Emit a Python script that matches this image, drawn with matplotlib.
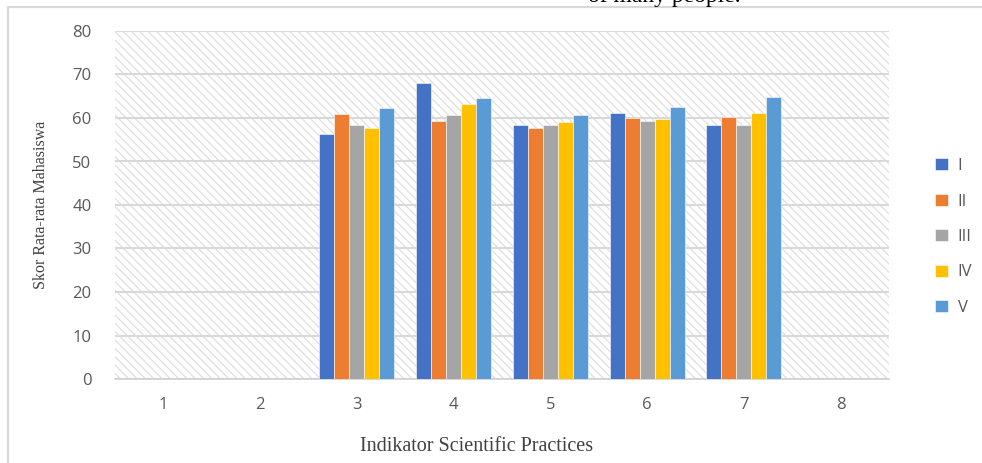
import matplotlib.pyplot as plt
import matplotlib.patches as mpatches
import numpy as np

# data (indikator 1, 2 and 8 have no bars)
indikator = ['1', '2', '3', '4', '5', '6', '7', '8']
seri = ['I', 'II', 'III', 'IV', 'V']
skor_I = [0, 0, 56.4, 68.0, 58.3, 61.2, 58.3, 0]
skor_II = [0, 0, 60.9, 59.4, 57.8, 60.0, 60.2, 0]
skor_III = [0, 0, 58.3, 60.6, 58.3, 59.2, 58.5, 0]
skor_IV = [0, 0, 57.6, 63.3, 59.0, 59.7, 61.1, 0]
skor_V = [0, 0, 62.3, 64.6, 60.6, 62.5, 64.9, 0]
warna = ['#4472C4', '#ED7D31', '#A5A5A5', '#FFC000', '#5B9BD5']

plt.rcParams['hatch.linewidth'] = 0.8

fig = plt.figure(figsize=(9.82, 4.63), dpi=100)
ax = fig.add_axes([115/982, 1-379/463, 774/982, 348/463])

# chart frame (light gray border, cut by the image edges)
fig.patches.append(mpatches.Rectangle((8/982, -0.1), 1.1, 1 - 7/463 + 0.1,
                                      transform=fig.transFigure, fill=False,
                                      edgecolor='#d9d9d9', linewidth=1.6))
# leftover document text cut at the top
fig.text(588/982, 1-2/463, 'of many people.', family='Liberation Serif',
         fontsize=17, va='baseline', ha='left', color='black')

# hatched plot area
ax.add_patch(mpatches.Rectangle((0, 0), 1, 1, transform=ax.transAxes,
                                facecolor='white', edgecolor='#dcdcdc',
                                hatch='\\\\\\\\', linewidth=0, zorder=0))

x = np.arange(len(indikator))
lebar = 0.155
semua = [skor_I, skor_II, skor_III, skor_IV, skor_V]
for i, (nilai, c) in enumerate(zip(semua, warna)):
    ax.bar(x + (i - 2) * lebar, nilai, lebar, color=c, label=seri[i],
           edgecolor='white', linewidth=0.4, zorder=3)

ax.set_xlim(-0.5, 7.5)
ax.set_ylim(0, 80)
ax.set_yticks(range(0, 81, 10))
ax.set_xticks(x)
ax.set_xticklabels(indikator)
ax.grid(axis='y', color='#d9d9d9', linewidth=1.5, zorder=1)
ax.set_axisbelow(True)
for s in ['top', 'right', 'left']:
    ax.spines[s].set_visible(False)
ax.spines['bottom'].set_color('#d0d0d0')
ax.spines['bottom'].set_linewidth(1.2)
ax.tick_params(axis='both', length=0, labelsize=12, colors='#595959')
ax.tick_params(axis='y', pad=17)
ax.tick_params(axis='x', pad=13)
for t in ax.get_xticklabels() + ax.get_yticklabels():
    t.set_family('Open Sans')

ax.set_ylabel('Skor Rata-rata Mahasiswa', family='Liberation Serif',
              fontsize=11.5, color='#404040')
ax.yaxis.set_label_coords(-66/774, 0.5)
ax.set_xlabel('Indikator Scientific Practices', family='Liberation Serif',
              fontsize=14.5, color='#404040')
ax.xaxis.set_label_coords((477-115)/774, -(437-379)/348)

ax.legend(loc='center left', bbox_to_anchor=(920/982, 1-237/463),
          bbox_transform=fig.transFigure, frameon=False,
          prop={'family': 'Open Sans', 'size': 12}, labelcolor='#595959',
          handlelength=0.8, handleheight=0.7, handletextpad=0.55,
          labelspacing=1.17)

fig.savefig('out.png', dpi=100)
